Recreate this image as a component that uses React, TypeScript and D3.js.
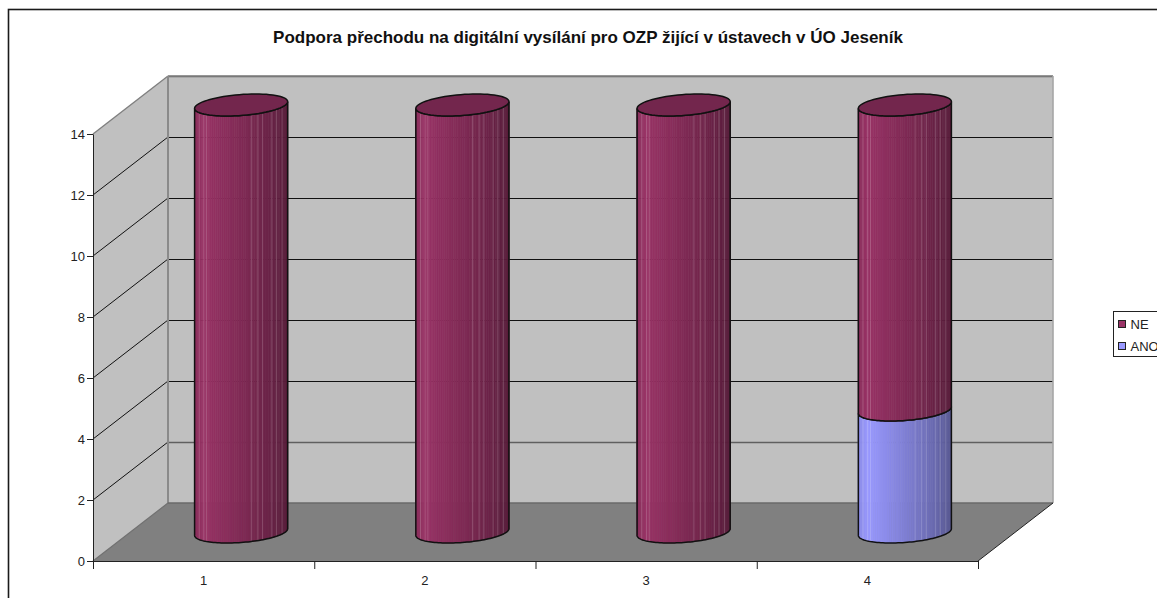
import React, { useRef, useEffect } from "react";
import * as d3 from "d3";

const chartTitle = "Podpora přechodu na digitální vysílání pro OZP žijící v ústavech v ÚO Jeseník";
const categories = ["1", "2", "3", "4"];
const anoValues = [0, 0, 0, 4];
const neValues = [14, 14, 14, 10];
const yTicks = [0, 2, 4, 6, 8, 10, 12, 14];
const seriesNames = ["ANO", "NE"];
const legendNames = ["NE", "ANO"];

const FONT = "'Liberation Sans', Arial, sans-serif";
const WIDTH = 1157;
const HEIGHT = 598;
const colors: Record<string, string> = { NE: "#993366", ANO: "#9999FF" };

// oblique depth of the 3d box
const depthX = 75;
const depthY = -58;
// cylinder radius
const radiusA = 44.3;
const radiusFrac = 0.19;
const FACETS = 64;
// where the light facet seams sit across a cylinder, 0 = left edge, 1 = right edge
const seamFractions = [0.05, 0.1, 0.13, 0.61, 0.68, 0.73, 0.83, 0.88, 0.94];

const App = () => {
  const svgRef = useRef<SVGSVGElement>(null);

  useEffect(() => {
    const svg = d3.select(svgRef.current);
    svg.selectAll("*").remove();

    const x = d3.scaleBand().domain(categories).range([93, 978]);
    const xEdges = d3.scaleLinear().domain([0, categories.length]).range([93, 978]);
    const y = d3.scaleLinear().domain([0, 14]).range([561, 134]);

    const x0 = x.range()[0];
    const x1 = x.range()[1];
    const y0 = y(0);
    const yTop = y(14);

    // chart frame, runs off the page on the right and bottom
    svg.append("rect")
      .attr("x", 8.5).attr("y", 9.5)
      .attr("width", WIDTH + 20).attr("height", HEIGHT + 20)
      .attr("fill", "#fff").attr("stroke", "#1a1a1a").attr("stroke-width", 1.6);

    svg.append("text")
      .attr("x", 588).attr("y", 43)
      .attr("text-anchor", "middle")
      .attr("font-family", FONT).attr("font-size", 17).attr("font-weight", "bold")
      .attr("fill", "#111")
      .text(chartTitle);

    const poly = (pts: number[][], fill: string) =>
      svg.append("polygon").attr("points", pts.map(p => p.join(",")).join(" ")).attr("fill", fill);

    // walls and floor
    poly([[x0 + depthX, y0 + depthY], [x1 + depthX, y0 + depthY], [x1 + depthX, yTop + depthY], [x0 + depthX, yTop + depthY]], "#C0C0C0");
    poly([[x0, y0], [x0 + depthX, y0 + depthY], [x0 + depthX, yTop + depthY], [x0, yTop]], "#C0C0C0");
    poly([[x0, y0], [x1, y0], [x1 + depthX, y0 + depthY], [x0 + depthX, y0 + depthY]], "#808080");

    const line = (xa: number, ya: number, xb: number, yb: number, color: string, w = 1) =>
      svg.append("line")
        .attr("x1", xa).attr("y1", ya).attr("x2", xb).attr("y2", yb)
        .attr("stroke", color).attr("stroke-width", w);

    // gridlines
    yTicks.filter(v => v > 0 && v < 14).forEach(v => {
      line(x0, y(v), x0 + depthX, y(v) + depthY, "#111");
    });
    yTicks.filter(v => v > 0).forEach(v => {
      const soft = v === 2 || v === 14;
      const yy = Math.round(y(v) + depthY) + 0.5;
      line(x0 + depthX, yy, x1 + depthX, yy, soft ? "#5f5f5f" : "#111", soft ? 1.6 : 1);
    });

    // box edges
    line(x0, yTop, x0 + depthX, yTop + depthY, "#808080", 1.4);
    line(x0 + depthX, yTop + depthY, x1 + depthX, yTop + depthY, "#808080", 1.4);
    line(x0 + depthX, yTop + depthY, x0 + depthX, y0 + depthY, "#8a8a8a", 2);
    line(x1 + depthX, yTop + depthY, x1 + depthX, y0 + depthY, "#a6a6a6", 1.6);
    line(x0 + depthX, y0 + depthY, x1 + depthX, y0 + depthY, "#6a6a6a", 1.4);
    line(x0, y0, x0 + depthX, y0 + depthY, "#707070", 1.2);
    line(x1, y0, x1 + depthX, y0 + depthY, "#222", 1);

    // axes
    const styleAxis = (g: any) => {
      g.selectAll("path,line").attr("stroke", "#222");
      g.selectAll("text")
        .attr("font-family", FONT).attr("font-size", 13).attr("fill", "#222");
    };
    svg.append("g")
      .attr("transform", `translate(${x0},0)`)
      .call(d3.axisLeft(y).tickValues(yTicks).tickSize(6).tickSizeOuter(0).tickPadding(2))
      .call(styleAxis);
    svg.append("g")
      .attr("transform", `translate(0,${y0})`)
      .call(d3.axisBottom(xEdges).ticks(categories.length).tickSize(8).tickSizeOuter(0).tickFormat(() => ""))
      .call(styleAxis);
    svg.selectAll("text.cat")
      .data(categories)
      .join("text")
      .attr("class", "cat")
      .attr("x", d => x(d)! + x.bandwidth() / 2)
      .attr("y", 584.5)
      .attr("text-anchor", "middle")
      .attr("font-family", FONT).attr("font-size", 13).attr("fill", "#222")
      .text(d => d);

    // cylinders
    const radiusC = -depthY * radiusFrac;
    const radiusB = depthX * radiusFrac;
    const R = Math.hypot(radiusA, radiusB);
    const phi = Math.atan2(radiusB, radiusA);
    const point = (cx: number, cy: number, t: number): [number, number] => [
      cx + radiusA * Math.cos(t) + radiusB * Math.sin(t),
      cy - radiusC * Math.sin(t),
    ];
    const shade = d3.scaleLinear<number>()
      .domain([0, 0.1, 0.45, 0.8, 1])
      .range([0.9, 1, 0.86, 0.7, 0.58]);
    const stacked = d3.stack<any>().keys(seriesNames)(
      categories.map((c, i) => ({ cat: c, ANO: anoValues[i], NE: neValues[i] }))
    );
    const frontArc = (cx: number, cy: number) =>
      d3.range(FACETS + 1).map(i => point(cx, cy, phi - Math.PI + (i / FACETS) * Math.PI));
    const pathLine = d3.line();

    categories.forEach((cat, ci) => {
      const cx = x(cat)! + x.bandwidth() / 2 + depthX / 2;
      stacked.forEach(layer => {
        const [lo, hi] = layer[ci];
        if (hi <= lo) return;
        const base = colors[layer.key];
        const yLo = y(lo) + depthY / 2;
        const yHi = y(hi) + depthY / 2;
        const loArc = frontArc(cx, yLo);
        const hiArc = frontArc(cx, yHi);
        d3.range(FACETS).forEach(i => {
          const mid = (loArc[i][0] + loArc[i + 1][0]) / 2;
          const u = (mid - (cx - R)) / (2 * R);
          const fill = d3.rgb(base);
          const k = shade(u);
          const col = d3.rgb(fill.r * k, fill.g * k, fill.b * k).formatHex();
          svg.append("polygon")
            .attr("points", [loArc[i], loArc[i + 1], hiArc[i + 1], hiArc[i]].map(p => p.join(",")).join(" "))
            .attr("fill", col).attr("stroke", col).attr("stroke-width", 0.6);
        });
        // faint facet seams
        seamFractions.forEach(f => {
          const t = phi - Math.PI + Math.acos(1 - 2 * f);
          const a = point(cx, yLo, t);
          const b = point(cx, yHi, t);
          svg.append("line")
            .attr("x1", a[0]).attr("y1", a[1]).attr("x2", b[0]).attr("y2", b[1])
            .attr("stroke", "#fff").attr("stroke-opacity", 0.2).attr("stroke-width", 0.9);
        });
        const outline = [...loArc, ...hiArc.slice().reverse()];
        svg.append("path")
          .attr("d", pathLine(outline) + "Z")
          .attr("fill", "none").attr("stroke", "#111").attr("stroke-width", 1.5);
        // top cap only on the last segment of the stack
        if (layer.key === seriesNames[seriesNames.length - 1]) {
          const k = 0.75;
          const b = d3.rgb(base);
          const ring = d3.range(72).map(i => point(cx, yHi, (i / 72) * 2 * Math.PI));
          svg.append("path")
            .attr("d", pathLine(ring) + "Z")
            .attr("fill", d3.rgb(b.r * k, b.g * k, b.b * k).formatHex())
            .attr("stroke", "#111").attr("stroke-width", 1.5);
        }
      });
    });

    // legend, cut off by the page edge like in the source image
    svg.append("rect")
      .attr("x", 1113.5).attr("y", 311.5)
      .attr("width", 80).attr("height", 45)
      .attr("fill", "#fff").attr("stroke", "#222").attr("stroke-width", 1);
    legendNames.forEach((name, i) => {
      const ly = 320 + i * 22;
      svg.append("rect")
        .attr("x", 1118.5).attr("y", ly + 0.5)
        .attr("width", 7).attr("height", 7)
        .attr("fill", colors[name]).attr("stroke", "#222").attr("stroke-width", 1);
      svg.append("text")
        .attr("x", 1130.5).attr("y", ly + 9)
        .attr("font-family", FONT).attr("font-size", 13).attr("fill", "#222")
        .text(name);
    });
  }, []);

  return (
    <>
      <style>{`body{margin:0;overflow:hidden}`}</style>
      <svg ref={svgRef} width={WIDTH} height={HEIGHT} style={{ display: "block" }} />
    </>
  );
};

export default App;
